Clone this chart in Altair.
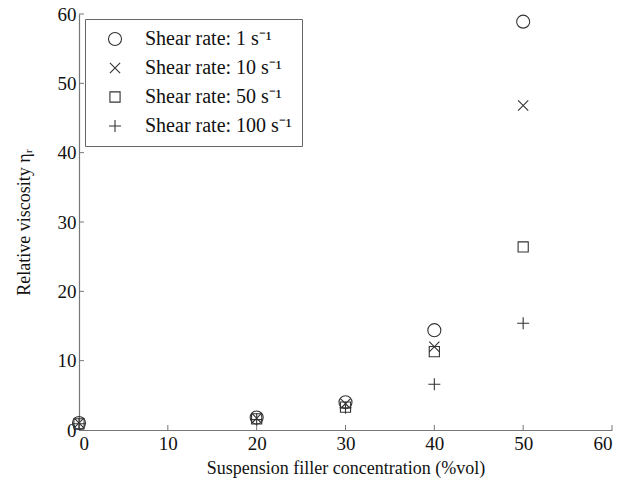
import altair as alt
import pandas as pd

conc = [0, 20, 30, 40, 50]
eta_1 = [1.0, 1.8, 4.0, 14.4, 58.9]
eta_10 = [1.0, 1.7, 3.8, 12.0, 46.8]
eta_50 = [0.9, 1.6, 3.3, 11.3, 26.4]
eta_100 = [0.9, 1.5, 3.2, 6.6, 15.4]
series_labels = ["Shear rate: 1 s\u207b\u00b9", "Shear rate: 10 s\u207b\u00b9",
                 "Shear rate: 50 s\u207b\u00b9", "Shear rate: 100 s\u207b\u00b9"]
ticks = [0, 10, 20, 30, 40, 50, 60]

rows = []
for lab, vals in zip(series_labels, [eta_1, eta_10, eta_50, eta_100]):
    for c, v in zip(conc, vals):
        rows.append({"conc": c, "eta": v, "series": lab})
df = pd.DataFrame(rows)
tick_df = pd.DataFrame({"t": ticks})

W, H = 533, 416
FONT = "Liberation Serif"
shapes = ["circle", "M-0.78,-0.78L0.78,0.78M0.78,-0.78L-0.78,0.78",
          "M-0.78,-0.78L0.78,-0.78L0.78,0.78L-0.78,0.78Z",
          "M-0.92,0L0.92,0M0,-0.92L0,0.92"]

xs = alt.Scale(domain=[0, 60], nice=False)
ys = alt.Scale(domain=[0, 60], nice=False)

points = alt.Chart(df).mark_point(filled=False, strokeWidth=1.1, color="#333", opacity=1).encode(
    x=alt.X("conc:Q", scale=xs, axis=alt.Axis(values=ticks, title="Suspension filler concentration (%vol)",
                                                ticks=False, labelPadding=4, titlePadding=6)),
    y=alt.Y("eta:Q", scale=ys, axis=alt.Axis(values=ticks, title="Relative viscosity \u03b7\u1d63",
                                               ticks=False, labelPadding=3, titlePadding=24)),
    shape=alt.Shape("series:N", scale=alt.Scale(domain=series_labels, range=shapes),
                    legend=alt.Legend(title=None, orient="none", legendX=6, legendY=5,
                                      strokeColor="#666", fillColor="white", padding=10,
                                      labelFont=FONT, labelFontSize=20, labelColor="#111",
                                      symbolSize=170, symbolStrokeColor="#333", symbolStrokeWidth=1.1,
                                      symbolOffset=10, rowPadding=9, labelOffset=20)),
    size=alt.value(170),
)

xt = alt.Chart(tick_df).mark_rule(color="#777", strokeWidth=1).encode(
    x=alt.X("t:Q", scale=xs), y=alt.value(H), y2=alt.value(H - 5))
yt = alt.Chart(tick_df).mark_rule(color="#777", strokeWidth=1).encode(
    y=alt.Y("t:Q", scale=ys), x=alt.value(0), x2=alt.value(5))

chart = alt.layer(xt, yt, points).properties(
    width=W, height=H,
    autosize=alt.AutoSizeParams(type="none"),
    padding={"left": 71, "top": 6, "right": 21, "bottom": 50},
).configure_view(stroke=None).configure_axis(
    grid=False, domainColor="#777", domainWidth=1.2,
    labelFont=FONT, labelFontSize=19, labelColor="#111",
    titleFont=FONT, titleFontSize=18, titleFontWeight="normal", titleColor="#111",
)

chart.save("out.html", embed_options={"renderer": "svg", "actions": False})
